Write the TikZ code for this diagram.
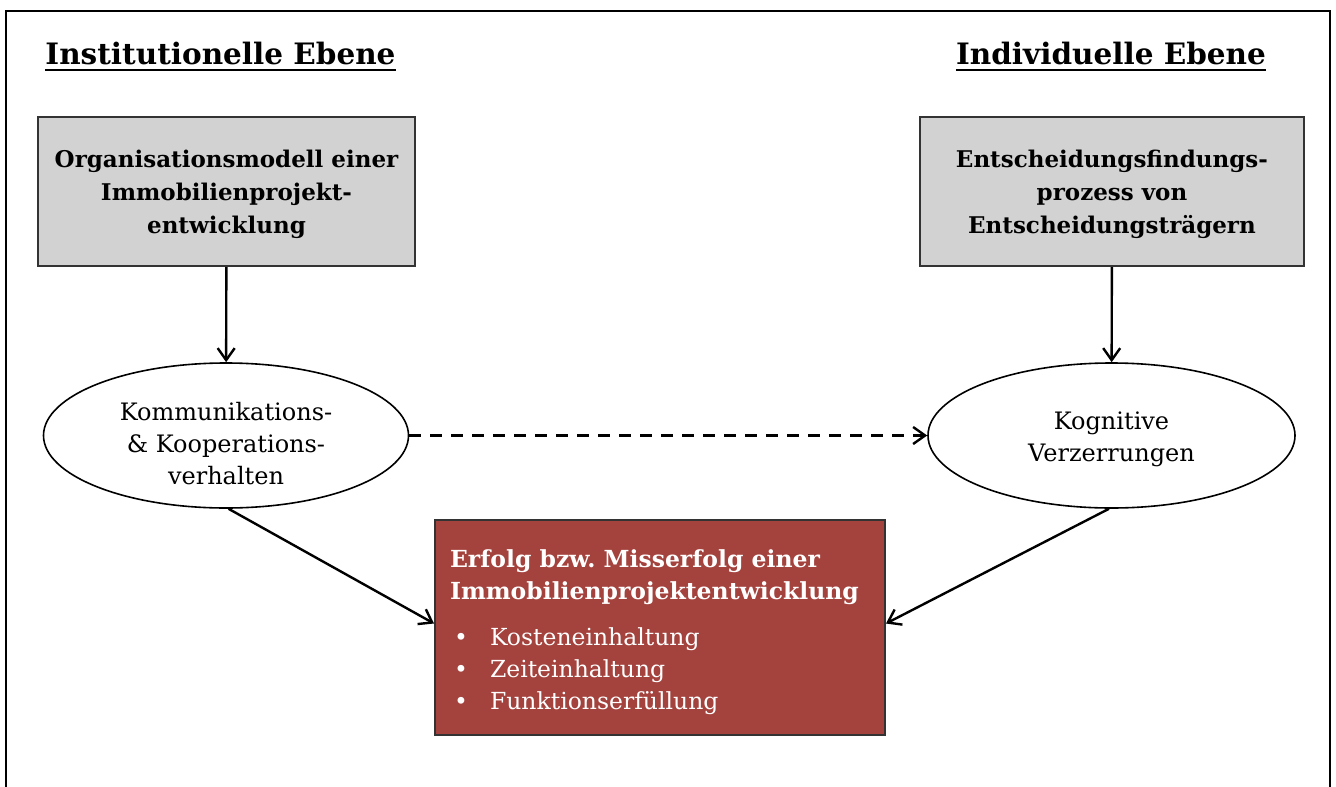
\documentclass[tikz,border=0pt]{standalone}
\usepackage{fontspec}
\setmainfont{DejaVu Serif}
\usetikzlibrary{arrows.meta,shapes.geometric}
\definecolor{boxgray}{HTML}{D2D2D2}
\definecolor{boxred}{HTML}{A4423D}
\definecolor{edge}{HTML}{333333}
\newcommand{\mylines}[2][0pt]{\raisebox{#1}[\height][\depth]{\begin{tabular}{@{}c@{}}#2\end{tabular}}}
\tikzset{
  title/.style={inner sep=0pt, font=\fontsize{29.5}{34}\selectfont\bfseries, anchor=base},
  graybox/.style={draw=edge, line width=2pt, fill=boxgray, minimum width=377pt, minimum height=149pt,
    inner sep=0pt, font=\fontsize{23}{33}\selectfont\bfseries},
  oval/.style={ellipse, draw=black, line width=1.6pt, fill=white, minimum width=365pt, minimum height=145pt,
    inner sep=0pt, font=\fontsize{24}{32}\selectfont},
  redbox/.style={draw=edge, line width=2pt, fill=boxred, minimum width=450pt, minimum height=215pt,
    inner sep=0pt, text=white, font=\fontsize{23.5}{32}\selectfont},
  conn/.style={line width=2.4pt, -{Straight Barb[length=12pt,width=17pt,line width=2.4pt]}},
}
\begin{document}
\begin{tikzpicture}[x=1pt,y=-1pt]
\useasboundingbox (0,0) rectangle (1336,787);
\fill[white] (0,0) rectangle (1336,787);
\draw[line width=2pt] (6,787) -- (6,11) -- (1330,11) -- (1330,787);

\node[title] (t1) at (220.5,64) {Institutionelle Ebene};
\node[title] (t2) at (1111,64) {Individuelle Ebene};
\draw[line width=2pt] ([yshift=-6pt]t1.base west) -- ([yshift=-6pt]t1.base east);
\draw[line width=2pt] ([yshift=-6pt]t2.base west) -- ([yshift=-6pt]t2.base east);

\node[graybox] (org) at (226.5,191.5) {\mylines[-2pt]{Organisationsmodell einer\\Immobilienprojekt-\\entwicklung}};
\node[graybox, minimum width=384pt] (ent) at (1112,191.5) {\mylines[-2pt]{Entscheidungsfindungs-\\prozess von\\Entscheidungstr\"agern}};

\node[oval] (kom) at (226,435.5) {\mylines[-11pt]{Kommunikations-\\\& Kooperations-\\verhalten}};
\node[oval, minimum width=367pt] (kog) at (1111.5,435.5) {\mylines[-4pt]{Kognitive\\Verzerrungen}};

\node[redbox] (erf) at (660,627.5) {\raisebox{-5pt}[\height][\depth]{\makebox[420pt][l]{\begin{tabular}{@{}l@{}}
\textbf{Erfolg bzw.\ Misserfolg einer}\\\textbf{Immobilienprojektentwicklung}\\[14pt]
\makebox[40pt][l]{\hspace{4pt}\textbullet}Kosteneinhaltung\\
\makebox[40pt][l]{\hspace{4pt}\textbullet}Zeiteinhaltung\\
\makebox[40pt][l]{\hspace{4pt}\textbullet}Funktionserf\"ullung
\end{tabular}}}};

\draw[conn] (org) -- (kom);
\draw[conn] (ent) -- (kog);
\draw[conn, dashed, dash pattern=on 12pt off 9pt] (kom) -- (kog);
\draw[conn] (kom.-88) -- ([yshift=4pt]erf.west);
\draw[conn] (kog.-92) -- ([yshift=4pt]erf.east);
\end{tikzpicture}
\end{document}
